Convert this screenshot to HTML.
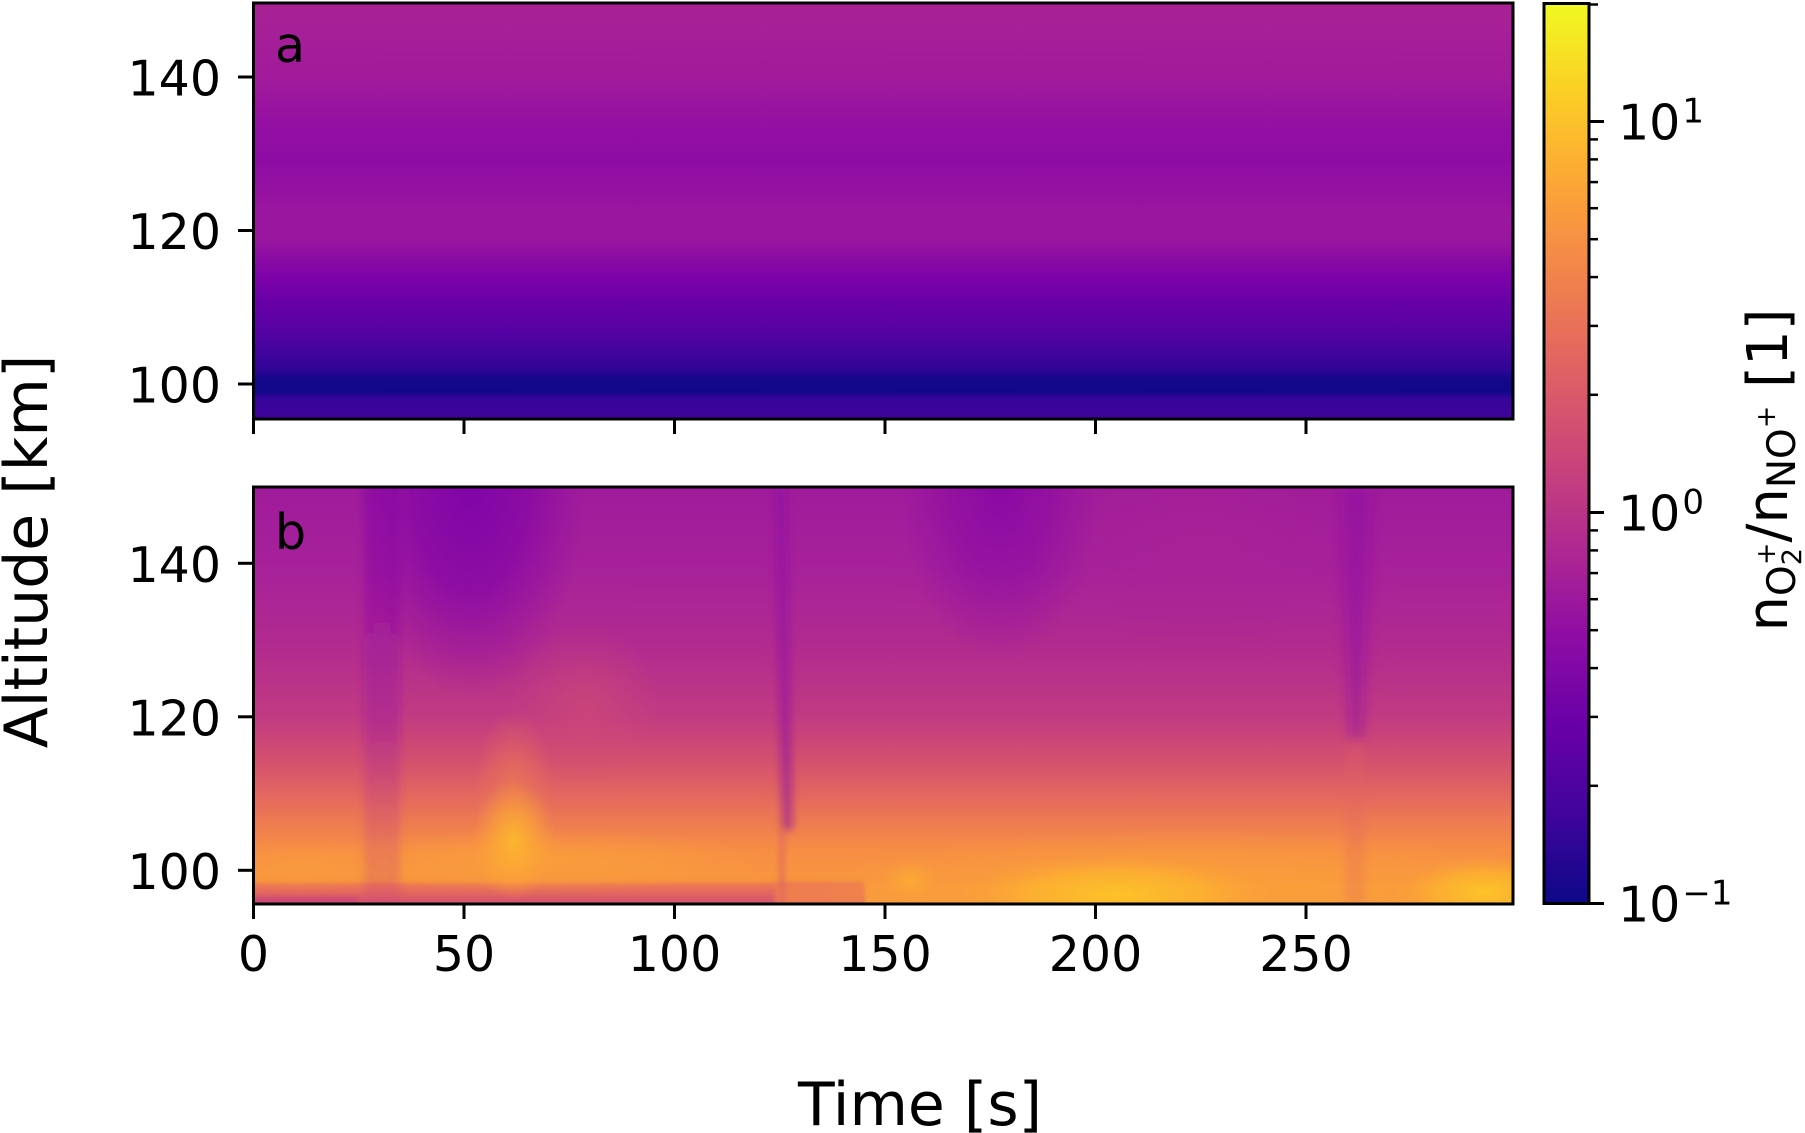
<!DOCTYPE html>
<html>
<head>
<meta charset="utf-8">
<style>
  html, body { margin: 0; padding: 0; background: #ffffff; }
  svg { display: block; }
  text { font-family: "DejaVu Sans", "Liberation Sans", sans-serif; fill: #000; }
</style>
</head>
<body>
<svg xmlns="http://www.w3.org/2000/svg" width="1805" height="1133" viewBox="0 0 1805 1133">
  <defs>
    <linearGradient id="topGrad" x1="0" y1="0" x2="0" y2="1">
      <stop offset="0" stop-color="#a82296"/>
      <stop offset="0.178" stop-color="#a11b9b"/>
      <stop offset="0.305" stop-color="#930fa3"/>
      <stop offset="0.377" stop-color="#8e0ca4"/>
      <stop offset="0.51" stop-color="#9b179f"/>
      <stop offset="0.57" stop-color="#99169f"/>
      <stop offset="0.654" stop-color="#7e03a8"/>
      <stop offset="0.714" stop-color="#6a00a8"/>
      <stop offset="0.786" stop-color="#5702a4"/>
      <stop offset="0.846" stop-color="#40049c"/>
      <stop offset="0.884" stop-color="#2c0594"/>
      <stop offset="0.903" stop-color="#14078a"/>
      <stop offset="0.935" stop-color="#12078a"/>
      <stop offset="0.950" stop-color="#36049a"/>
      <stop offset="1" stop-color="#40049c"/>
    </linearGradient>
    <linearGradient id="botGrad" x1="0" y1="0" x2="0" y2="1">
      <stop offset="0" stop-color="#a01b9b"/>
      <stop offset="0.20" stop-color="#a6219a"/>
      <stop offset="0.40" stop-color="#b32c8e"/>
      <stop offset="0.55" stop-color="#c13b82"/>
      <stop offset="0.65" stop-color="#d24f70"/>
      <stop offset="0.72" stop-color="#df6263"/>
      <stop offset="0.80" stop-color="#ed7a52"/>
      <stop offset="0.87" stop-color="#f68d45"/>
      <stop offset="0.93" stop-color="#f89540"/>
      <stop offset="0.945" stop-color="#f7913f"/>
      <stop offset="0.955" stop-color="#ec7754"/>
      <stop offset="0.97" stop-color="#e46a5b"/>
      <stop offset="0.985" stop-color="#db5c67"/>
      <stop offset="1" stop-color="#d35171"/>
    </linearGradient>
    <linearGradient id="cbGrad" x1="0" y1="0" x2="0" y2="1">
      <stop offset="0" stop-color="#f0f921"/>
      <stop offset="0.1" stop-color="#fcce25"/>
      <stop offset="0.2" stop-color="#fca636"/>
      <stop offset="0.3" stop-color="#f2844b"/>
      <stop offset="0.4" stop-color="#e16462"/>
      <stop offset="0.5" stop-color="#cc4778"/>
      <stop offset="0.6" stop-color="#b12a90"/>
      <stop offset="0.7" stop-color="#8f0da4"/>
      <stop offset="0.8" stop-color="#6a00a8"/>
      <stop offset="0.9" stop-color="#41049d"/>
      <stop offset="1" stop-color="#0d0887"/>
    </linearGradient>
    <linearGradient id="streakGrad" x1="0" y1="0" x2="0" y2="1">
      <stop offset="0" stop-color="#7e03a8" stop-opacity="0.45"/>
      <stop offset="0.55" stop-color="#9c179e" stop-opacity="0.4"/>
      <stop offset="0.85" stop-color="#cc4778" stop-opacity="0.3"/>
      <stop offset="1" stop-color="#cc4778" stop-opacity="0.25"/>
    </linearGradient>
    <radialGradient id="rDark">
      <stop offset="0" stop-color="#7e03a8" stop-opacity="0.95"/>
      <stop offset="0.5" stop-color="#8305a7" stop-opacity="0.7"/>
      <stop offset="1" stop-color="#8a09a5" stop-opacity="0"/>
    </radialGradient>
    <radialGradient id="rDark2">
      <stop offset="0" stop-color="#8606a6" stop-opacity="0.85"/>
      <stop offset="0.5" stop-color="#8a09a5" stop-opacity="0.55"/>
      <stop offset="1" stop-color="#8e0ca4" stop-opacity="0"/>
    </radialGradient>
    <radialGradient id="rMag">
      <stop offset="0" stop-color="#aa2494" stop-opacity="0.6"/>
      <stop offset="1" stop-color="#aa2494" stop-opacity="0"/>
    </radialGradient>
    <radialGradient id="rPink">
      <stop offset="0" stop-color="#cf4c73" stop-opacity="0.6"/>
      <stop offset="1" stop-color="#cf4c73" stop-opacity="0"/>
    </radialGradient>
    <radialGradient id="rOrange">
      <stop offset="0" stop-color="#ef7e50" stop-opacity="0.65"/>
      <stop offset="1" stop-color="#ef7e50" stop-opacity="0"/>
    </radialGradient>
    <radialGradient id="rYel">
      <stop offset="0" stop-color="#fdb82c" stop-opacity="0.95"/>
      <stop offset="0.5" stop-color="#fcac33" stop-opacity="0.6"/>
      <stop offset="1" stop-color="#fba238" stop-opacity="0"/>
    </radialGradient>
    <radialGradient id="rYel2">
      <stop offset="0" stop-color="#fdc527" stop-opacity="0.95"/>
      <stop offset="0.55" stop-color="#fdb82c" stop-opacity="0.65"/>
      <stop offset="1" stop-color="#fba238" stop-opacity="0"/>
    </radialGradient>
    <radialGradient id="rLight">
      <stop offset="0" stop-color="#fba238" stop-opacity="0.7"/>
      <stop offset="1" stop-color="#fba238" stop-opacity="0"/>
    </radialGradient>
    <filter id="b2" x="-50%" y="-50%" width="200%" height="200%"><feGaussianBlur stdDeviation="2"/></filter>
    <filter id="b4" x="-50%" y="-50%" width="200%" height="200%"><feGaussianBlur stdDeviation="4"/></filter>
    <filter id="b6" x="-50%" y="-50%" width="200%" height="200%"><feGaussianBlur stdDeviation="6"/></filter>
    <clipPath id="clipB"><rect x="253.5" y="487" width="1259.5" height="417"/></clipPath>
  </defs>

  <rect x="0" y="0" width="1805" height="1133" fill="#ffffff"/>

  <!-- Top panel (a) -->
  <rect x="253.5" y="3" width="1259.5" height="416" fill="url(#topGrad)"/>

  <!-- Bottom panel (b) -->
  <g clip-path="url(#clipB)">
    <rect x="253.5" y="487" width="1259.5" height="417" fill="url(#botGrad)"/>
    <rect x="775.5" y="883" width="88.5" height="21" fill="#ef7e50" filter="url(#b2)"/>
    <rect x="864" y="880" width="660" height="30" fill="#f99a3e" filter="url(#b2)"/>
    <ellipse cx="1190" cy="885" rx="380" ry="58" fill="url(#rLight)"/>
    <ellipse cx="540" cy="860" rx="230" ry="32" fill="url(#rLight)"/>
    <ellipse cx="300" cy="865" rx="90" ry="28" fill="url(#rLight)" opacity="0.6"/>
    <rect x="253" y="897" width="105" height="8" fill="#c6417d" opacity="0.6" filter="url(#b2)"/>
    <ellipse cx="1200" cy="540" rx="170" ry="110" fill="url(#rMag)"/>
    <rect x="364" y="480" width="36" height="430" fill="url(#streakGrad)" filter="url(#b4)"/>
    <ellipse cx="470" cy="487" rx="115" ry="210" fill="url(#rDark)"/>
    <ellipse cx="585" cy="705" rx="75" ry="80" fill="url(#rPink)"/>
    <ellipse cx="514" cy="790" rx="40" ry="80" fill="url(#rOrange)"/>
    <ellipse cx="514" cy="840" rx="42" ry="60" fill="url(#rYel)"/>
    <polygon points="775,487 786,487 793,830 782,830" fill="#8e0ca4" opacity="0.55" filter="url(#b4)"/>
    <rect x="778" y="830" width="8" height="74" fill="#e06462" opacity="0.45" filter="url(#b2)"/>
    <ellipse cx="1000" cy="487" rx="100" ry="175" fill="url(#rDark2)"/>
    <polygon points="1340,487 1372,487 1362,740 1350,740" fill="#8e0ca4" opacity="0.5" filter="url(#b6)"/>
    <rect x="1345" y="740" width="20" height="164" fill="#e06462" opacity="0.25" filter="url(#b4)"/>
    <ellipse cx="910" cy="880" rx="30" ry="22" fill="url(#rYel)" opacity="0.6"/>
    <ellipse cx="1116" cy="895" rx="160" ry="42" fill="url(#rYel2)"/>
    <ellipse cx="1485" cy="893" rx="90" ry="38" fill="url(#rYel2)"/>
  </g>

  <rect x="253.5" y="3" width="1259.5" height="416" fill="none" stroke="#000" stroke-width="3"/>
  <rect x="253.5" y="487" width="1259.5" height="417" fill="none" stroke="#000" stroke-width="3"/>

  <g stroke="#000" stroke-width="3">
    <line x1="238" y1="77" x2="253.5" y2="77"/>
    <line x1="238" y1="230.5" x2="253.5" y2="230.5"/>
    <line x1="238" y1="384" x2="253.5" y2="384"/>
    <line x1="238" y1="563.3" x2="253.5" y2="563.3"/>
    <line x1="238" y1="716.8" x2="253.5" y2="716.8"/>
    <line x1="238" y1="870.3" x2="253.5" y2="870.3"/>
    <line x1="253.5" y1="419" x2="253.5" y2="434"/>
    <line x1="464" y1="419" x2="464" y2="434"/>
    <line x1="674.5" y1="419" x2="674.5" y2="434"/>
    <line x1="885" y1="419" x2="885" y2="434"/>
    <line x1="1095.5" y1="419" x2="1095.5" y2="434"/>
    <line x1="1306" y1="419" x2="1306" y2="434"/>
    <line x1="253.5" y1="904" x2="253.5" y2="919"/>
    <line x1="464" y1="904" x2="464" y2="919"/>
    <line x1="674.5" y1="904" x2="674.5" y2="919"/>
    <line x1="885" y1="904" x2="885" y2="919"/>
    <line x1="1095.5" y1="904" x2="1095.5" y2="919"/>
    <line x1="1306" y1="904" x2="1306" y2="919"/>
  </g>

  <g font-size="49" text-anchor="end">
    <text x="221" y="95.5">140</text>
    <text x="221" y="249">120</text>
    <text x="221" y="402.5">100</text>
    <text x="221" y="581.8">140</text>
    <text x="221" y="735.3">120</text>
    <text x="221" y="888.8">100</text>
  </g>

  <g font-size="49" text-anchor="middle">
    <text x="253.5" y="971">0</text>
    <text x="464" y="971">50</text>
    <text x="674.5" y="971">100</text>
    <text x="885" y="971">150</text>
    <text x="1095.5" y="971">200</text>
    <text x="1306" y="971">250</text>
  </g>

  <text x="275" y="62" font-size="49">a</text>
  <text x="275" y="549" font-size="49">b</text>

  <text transform="translate(47,551.5) rotate(-90)" text-anchor="middle" font-size="60">Altitude [km]</text>
  <text x="920" y="1125" text-anchor="middle" font-size="60">Time [s]</text>

  <rect x="1544" y="3.5" width="45" height="900" fill="url(#cbGrad)"/>
  <rect x="1544" y="3.5" width="45" height="900" fill="none" stroke="#000" stroke-width="3"/>
  <g stroke="#000" stroke-width="3">
    <line x1="1589" y1="903.5" x2="1604" y2="903.5"/>
    <line x1="1589" y1="512.5" x2="1604" y2="512.5"/>
    <line x1="1589" y1="121.5" x2="1604" y2="121.5"/>
  </g>
  <g stroke="#000" stroke-width="2.5">
    <line x1="1589" y1="785.8" x2="1598" y2="785.8"/>
    <line x1="1589" y1="716.9" x2="1598" y2="716.9"/>
    <line x1="1589" y1="668.1" x2="1598" y2="668.1"/>
    <line x1="1589" y1="630.2" x2="1598" y2="630.2"/>
    <line x1="1589" y1="599.2" x2="1598" y2="599.2"/>
    <line x1="1589" y1="573.1" x2="1598" y2="573.1"/>
    <line x1="1589" y1="550.4" x2="1598" y2="550.4"/>
    <line x1="1589" y1="530.4" x2="1598" y2="530.4"/>
    <line x1="1589" y1="394.8" x2="1598" y2="394.8"/>
    <line x1="1589" y1="325.9" x2="1598" y2="325.9"/>
    <line x1="1589" y1="277.1" x2="1598" y2="277.1"/>
    <line x1="1589" y1="239.2" x2="1598" y2="239.2"/>
    <line x1="1589" y1="208.2" x2="1598" y2="208.2"/>
    <line x1="1589" y1="182.1" x2="1598" y2="182.1"/>
    <line x1="1589" y1="159.4" x2="1598" y2="159.4"/>
    <line x1="1589" y1="139.4" x2="1598" y2="139.4"/>
    <line x1="1589" y1="4.5" x2="1598" y2="4.5"/>
  </g>
  <g font-size="49">
    <text x="1618" y="139.5">10<tspan font-size="34" dx="2" dy="-17">1</tspan></text>
    <text x="1618" y="530.5">10<tspan font-size="34" dx="2" dy="-17">0</tspan></text>
    <text x="1618" y="921.5">10<tspan font-size="34" dx="2" dy="-17">−1</tspan></text>
  </g>

  <text transform="translate(1787,470) rotate(-90)" text-anchor="middle" font-size="56">n<tspan font-size="39" dy="8">O</tspan><tspan font-size="27" dy="6">2</tspan><tspan font-size="27" dx="-17" dy="-26">+</tspan><tspan font-size="56" dy="12">/n</tspan><tspan font-size="39" dy="8">NO</tspan><tspan font-size="27" dy="-20">+</tspan><tspan font-size="56" dy="12"> [1]</tspan></text>
</svg>
</body>
</html>
